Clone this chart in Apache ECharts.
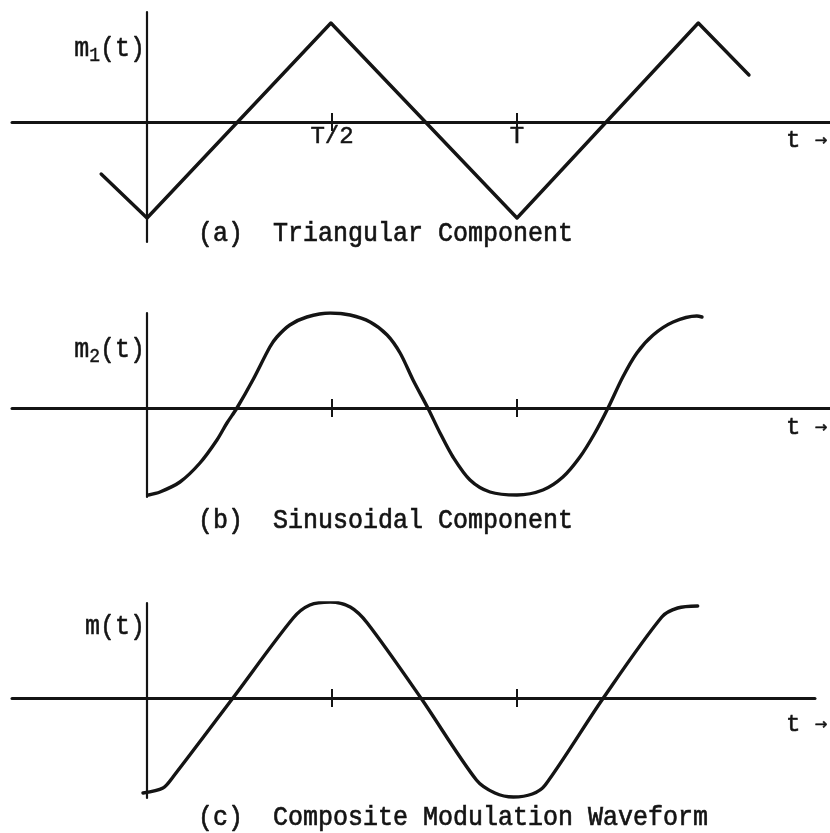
<!DOCTYPE html>
<html>
<head>
<meta charset="utf-8">
<script src="https://cdn.jsdelivr.net/npm/echarts@6/dist/echarts.min.js"></script>
<style>
  html, body { margin: 0; padding: 0; background: #ffffff; }
  #chart { width: 830px; height: 833px; }
</style>
</head>
<body>
<div id="chart"></div>
<script>
// Time is measured in units of the period T; amplitudes are normalised.
const tickValues = [0.5, 1];
const tickLabels = ['T/2', 'T'];

// (a) triangular component: vertices [t, m1]
const triangular = [
  [-0.124, -0.52], [0, -0.96], [0.497, 0.99], [1.0, -0.96], [1.49, 0.99], [1.627, 0.47]
];

// (b) sinusoidal component [t, m2]
const sinusoidal = [
  [0.004, -0.87], [0.035, -0.84], [0.089, -0.74], [0.143, -0.55], [0.189, -0.32],
  [0.216, -0.15], [0.243, 0.0], [0.286, 0.28], [0.332, 0.61], [0.351, 0.71],
  [0.386, 0.83], [0.432, 0.91], [0.495, 0.95], [0.549, 0.93], [0.603, 0.86],
  [0.649, 0.73], [0.684, 0.55], [0.719, 0.28], [0.759, 0.0], [0.792, -0.25],
  [0.827, -0.49], [0.873, -0.72], [0.927, -0.84], [1.0, -0.87], [1.070, -0.82],
  [1.124, -0.69], [1.170, -0.49], [1.209, -0.26], [1.246, 0.0], [1.286, 0.31],
  [1.324, 0.55], [1.368, 0.73], [1.422, 0.86], [1.486, 0.92], [1.5, 0.91]
];

// (c) composite modulation waveform [t, m]
const composite = [
  [-0.011, -0.95], [0.043, -0.90], [0.070, -0.79], [0.232, 0.0], [0.395, 0.80],
  [0.440, 0.93], [0.495, 0.96], [0.549, 0.91], [0.595, 0.75], [0.740, 0.0],
  [0.890, -0.82], [0.940, -0.95], [0.990, -0.99], [1.041, -0.96], [1.076, -0.87],
  [1.233, 0.0], [1.391, 0.81], [1.434, 0.90], [1.488, 0.92]
];

const captions = [
  '(a)  Triangular Component',
  '(b)  Sinusoidal Component',
  '(c)  Composite Modulation Waveform'
];
const yNames = ['{m|m}{s|1}{m|(t)}', '{m|m}{s|2}{m|(t)}', '{m|m(t)}'];
const xName = '{t|t }{a|\u2192}';

const INK = '#141414';
const MONO = '"Liberation Mono", "DejaVu Sans Mono", monospace';

// Panel layout: grid box, time window and vertical range of each waveform
const panels = [
  { data: triangular, top: 12,  height: 230, right: 0,  tMax: 1.846, yMin: -1.20, yMax: 1.10,
    smooth: false, nameY: 49, xNameY: 141, captionY: 234 },
  { data: sinusoidal, top: 313, height: 184, right: 0,  tMax: 1.846, yMin: -0.89, yMax: 0.95,
    smooth: 0.3, nameY: 350, xNameY: 428, captionY: 521 },
  { data: composite,  top: 603, height: 195, right: 15, tMax: 1.805, yMin: -1.00, yMax: 0.95,
    smooth: 0.3, nameY: 627, xNameY: 725, captionY: 818 }
];
const T_MIN = -0.365;

const grid = [], xAxis = [], yAxis = [], series = [], texts = [];

const tickStyle = { color: INK, width: 2 };

panels.forEach((p, i) => {
  grid.push({ left: 12, right: p.right, top: p.top, height: p.height });

  // axis line with the lower half of the crossing ticks
  xAxis.push({
    type: 'value', gridIndex: i, min: T_MIN, max: p.tMax,
    axisLine: { show: true, onZero: true, lineStyle: { color: INK, width: 3 } },
    axisTick: { show: true, customValues: tickValues, length: 9, inside: false, lineStyle: tickStyle },
    axisLabel: { show: false },
    splitLine: { show: false }
  });
  // upper half of the crossing ticks
  xAxis.push({
    type: 'value', gridIndex: i, min: T_MIN, max: p.tMax, position: 'top',
    axisLine: { show: false, onZero: true, onZeroAxisIndex: i },
    axisTick: { show: true, customValues: tickValues, length: 9, inside: false, lineStyle: tickStyle },
    axisLabel: { show: false },
    splitLine: { show: false }
  });

  yAxis.push({
    type: 'value', gridIndex: i, min: p.yMin, max: p.yMax,
    axisLine: { show: true, onZero: true, lineStyle: { color: INK, width: 2.2 } },
    axisTick: { show: false }, axisLabel: { show: false }, splitLine: { show: false }
  });

  series.push({
    type: 'line', xAxisIndex: 2 * i, yAxisIndex: i, data: p.data,
    smooth: p.smooth, symbol: 'none', animation: false,
    lineStyle: { color: INK, width: 3.4, cap: 'round', join: 'round' }
  });

  texts.push({
    type: 'text', x: 145, y: p.nameY, scaleY: 1.1, originX: 0, originY: 0,
    style: {
      text: yNames[i], align: 'right', verticalAlign: 'middle',
      rich: {
        m: { fontFamily: MONO, fontSize: 25, fill: INK, stroke: INK, lineWidth: 0.5 },
        s: { fontFamily: MONO, fontSize: 18, fill: INK, stroke: INK, lineWidth: 0.4, padding: [12, 0, 0, 0] }
      }
    }
  });
  texts.push({
    type: 'text', x: 786, y: p.xNameY,
    style: {
      text: xName, verticalAlign: 'middle',
      rich: {
        t: { fontFamily: MONO, fontSize: 24, fill: INK, stroke: INK, lineWidth: 0.5 },
        a: { fontFamily: '"DejaVu Sans", sans-serif', fontSize: 15, fill: INK, stroke: INK, lineWidth: 0.6 }
      }
    }
  });
  texts.push({
    type: 'text', x: 198, y: p.captionY, scaleY: 1.12, originX: 0, originY: 0,
    style: { text: captions[i], font: '25px ' + MONO, fill: INK, stroke: INK, lineWidth: 0.6,
             verticalAlign: 'middle' }
  });
});

const chart = echarts.init(document.getElementById('chart'), null, { renderer: 'canvas' });
chart.setOption({
  backgroundColor: '#ffffff',
  animation: false,
  grid, xAxis, yAxis, series
});

// T/2 and T labels sit just below the crossing ticks of the first panel
tickValues.forEach((v, k) => {
  const [px, py] = chart.convertToPixel({ xAxisIndex: 0, yAxisIndex: 0 }, [v, 0]);
  texts.push({
    type: 'text', x: px, y: py + 15,
    style: { text: tickLabels[k], font: '24px ' + MONO, fill: INK, stroke: INK, lineWidth: 0.5,
             align: 'center', verticalAlign: 'middle' }
  });
});

chart.setOption({ graphic: { elements: texts } });
</script>
</body>
</html>
